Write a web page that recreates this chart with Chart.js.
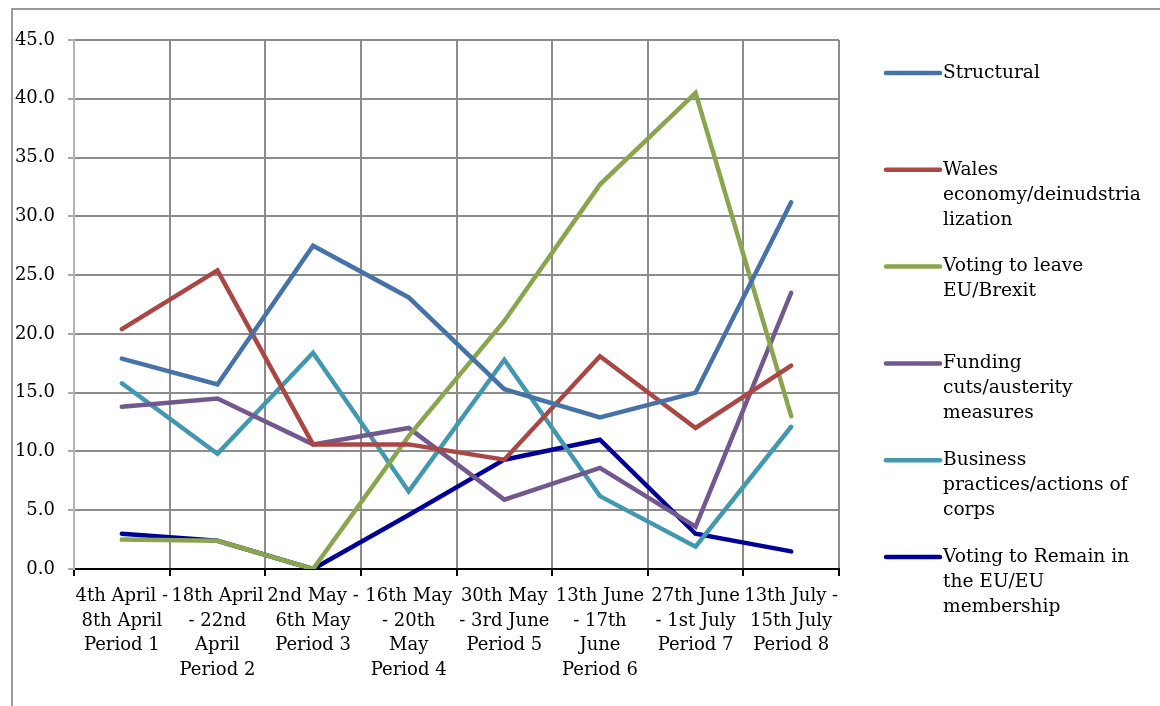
<!DOCTYPE html>
<html>
<head>
<meta charset="utf-8">
<script src="https://cdn.jsdelivr.net/npm/chart.js@4/dist/chart.umd.min.js"></script>
<style>
  html, body { margin: 0; padding: 0; background: #fff; }
  #wrap { width: 1160px; height: 706px; position: relative; }
</style>
</head>
<body>
<div id="wrap"><canvas id="ukChart" width="1160" height="706"></canvas></div>
<script>
// Categories (periods)
const periods = [
  ["4th April -", "8th April", "Period 1"],
  ["18th April", "- 22nd", "April", "Period 2"],
  ["2nd May -", "6th May", "Period 3"],
  ["16th May", "- 20th", "May", "Period 4"],
  ["30th May", "- 3rd June", "Period 5"],
  ["13th June", "- 17th", "June", "Period 6"],
  ["27th June", "- 1st July", "Period 7"],
  ["13th July -", "15th July", "Period 8"]
];

// Series values (%)
const structural = [17.9, 15.7, 27.5, 23.1, 15.3, 12.9, 15.0, 31.2];
const walesEconomy = [20.4, 25.4, 10.6, 10.6, 9.3, 18.1, 12.0, 17.3];
const votingLeave = [2.5, 2.4, 0.0, 11.3, 21.1, 32.7, 40.5, 13.0];
const fundingCuts = [13.8, 14.5, 10.6, 12.0, 5.9, 8.6, 3.6, 23.5];
const businessPractices = [15.8, 9.8, 18.4, 6.6, 17.8, 6.2, 1.9, 12.1];
const votingRemain = [3.0, 2.4, 0.0, 4.6, 9.3, 11.0, 3.0, 1.5];

// Legend labels (wrapped as in the original)
const legendLabels = [
  ["Structural"],
  ["Wales", "economy/deinudstria", "lization"],
  ["Voting to leave", "EU/Brexit"],
  ["Funding", "cuts/austerity", "measures"],
  ["Business", "practices/actions of", "corps"],
  ["Voting to Remain in", "the EU/EU", "membership"]
];

// Y axis ticks
const yMin = 0;
const yMax = 45;
const yStep = 5;

const fontFamily = "'DejaVu Serif', 'Liberation Serif', serif";
const fontSize = 18;

// Frame around the whole chart
const framePlugin = {
  id: "frame",
  afterDraw(chart) {
    const ctx = chart.ctx;
    ctx.save();
    ctx.strokeStyle = "#9a9a9a";
    ctx.lineWidth = 2;
    ctx.strokeRect(12, 9, chart.width + 10, chart.height + 10);
    ctx.restore();
  }
};

// Legend drawn on the right, with wrapped text
const sideLegend = {
  id: "sideLegend",
  afterDraw(chart) {
    const ctx = chart.ctx;
    const x0 = chart.chartArea.right + 47;
    const lineEnd = x0 + 54;
    const textX = lineEnd + 3;
    const startY = 73;
    const step = 96.8;
    const lh = 25;
    ctx.save();
    ctx.font = "18.6px " + fontFamily;
    ctx.textBaseline = "middle";
    ctx.textAlign = "left";
    chart.data.datasets.forEach((ds, i) => {
      const y = startY + i * step;
      ctx.strokeStyle = ds.borderColor;
      ctx.lineWidth = 4.5;
      ctx.lineCap = "round";
      ctx.beginPath();
      ctx.moveTo(x0, y);
      ctx.lineTo(lineEnd, y);
      ctx.stroke();
      ctx.fillStyle = "#000";
      legendLabels[i].forEach((t, j) => {
        ctx.fillText(t, textX, y + j * lh);
      });
    });
    ctx.restore();
  }
};

function makeSeries(label, data, color) {
  return {
    label: label,
    data: data,
    borderColor: color,
    backgroundColor: color,
    borderWidth: 4.5,
    fill: false,
    tension: 0,
    pointRadius: 0,
    borderCapStyle: "round",
    borderJoinStyle: "miter"
  };
}

const ctx = document.getElementById("ukChart").getContext("2d");
const myChart = new Chart(ctx, {
  type: "line",
  data: {
    labels: periods,
    datasets: [
      makeSeries("Structural", structural, "#4572A7"),
      makeSeries("Wales economy/deinudstria lization", walesEconomy, "#AA4643"),
      makeSeries("Voting to leave EU/Brexit", votingLeave, "#89A54E"),
      makeSeries("Funding cuts/austerity measures", fundingCuts, "#71588F"),
      makeSeries("Business practices/actions of corps", businessPractices, "#4198AF"),
      makeSeries("Voting to Remain in the EU/EU membership", votingRemain, "#000099")
    ]
  },
  options: {
    responsive: false,
    animation: false,
    layout: {
      padding: { left: 0, top: 40, right: 321, bottom: 0 }
    },
    scales: {
      x: {
        offset: true,
        grid: {
          display: true,
          offset: true,
          color: "#8c8c8c",
          lineWidth: 2,
          tickLength: 7,
          tickColor: "#000"
        },
        border: { display: true, color: "#000", width: 2 },
        ticks: {
          color: "#000",
          autoSkip: false,
          maxRotation: 0,
          minRotation: 0,
          padding: 8,
          font: { family: fontFamily, size: fontSize, lineHeight: 1.37 }
        },
        afterFit: function (scale) {
          scale.height = 137;
        }
      },
      y: {
        min: yMin,
        max: yMax,
        grid: {
          color: "#8c8c8c",
          lineWidth: 2,
          tickLength: 6,
          tickColor: "#aaa"
        },
        border: { display: true, color: "#b5b5b5", width: 2 },
        ticks: {
          stepSize: yStep,
          color: "#000",
          padding: 13,
          font: { family: fontFamily, size: fontSize },
          callback: function (value) {
            return value.toFixed(1);
          }
        },
        afterFit: function (scale) {
          scale.width = 74;
        }
      }
    },
    plugins: {
      legend: { display: false },
      tooltip: { enabled: false }
    }
  },
  plugins: [framePlugin, sideLegend]
});
</script>
</body>
</html>
